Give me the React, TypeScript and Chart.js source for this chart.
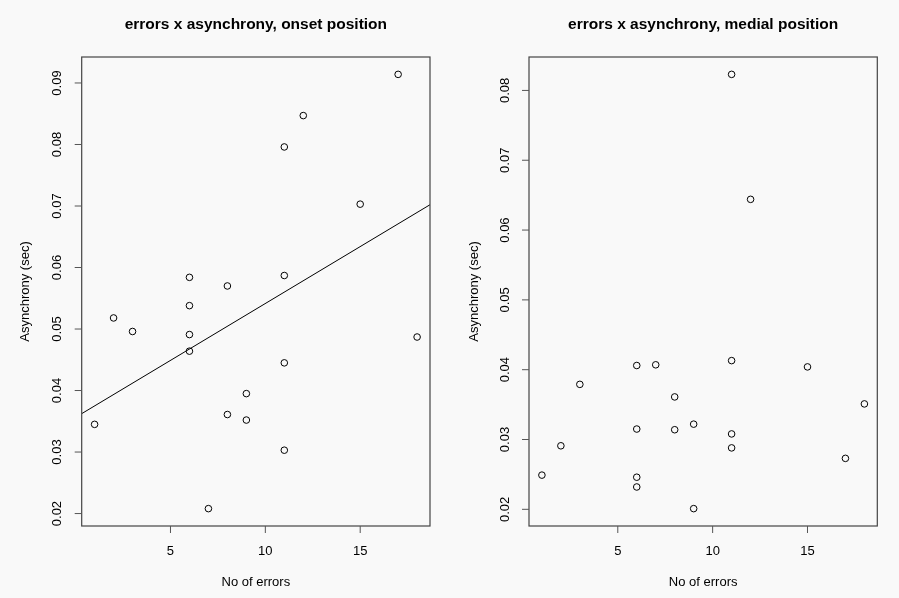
import React, { useEffect, useRef } from "react";
import { Chart, registerables } from "chart.js";

Chart.register(...registerables);

// ---- data ----
const errorsOnset = [17, 12, 11, 15, 6, 8, 11, 6, 2, 3, 6, 6, 18, 11, 9, 8, 9, 1, 11, 7];
const asyncOnset = [
  0.0914, 0.0847, 0.0796, 0.0703, 0.0584, 0.0570, 0.0587, 0.0538, 0.0518, 0.0496,
  0.0491, 0.0464, 0.0487, 0.0445, 0.0395, 0.0361, 0.0352, 0.0345, 0.0303, 0.0208,
];
const errorsMedial = [11, 12, 6, 7, 11, 15, 3, 8, 18, 6, 8, 9, 11, 11, 2, 17, 1, 6, 6, 9];
const asyncMedial = [
  0.0823, 0.0644, 0.0406, 0.0407, 0.0413, 0.0404, 0.0379, 0.0361, 0.0351, 0.0315,
  0.0314, 0.0322, 0.0308, 0.0288, 0.0291, 0.0273, 0.0249, 0.0246, 0.0232, 0.0201,
];
const xTicks = [5, 10, 15];
const yTicksOnset = [0.02, 0.03, 0.04, 0.05, 0.06, 0.07, 0.08, 0.09];
const yTicksMedial = [0.02, 0.03, 0.04, 0.05, 0.06, 0.07, 0.08];
const titleOnset = "errors x asynchrony, onset position";
const titleMedial = "errors x asynchrony, medial position";
const xTitle = "No of errors";
const yTitle = "Asynchrony (sec)";

const FONT = "'Liberation Sans', Arial, Helvetica, sans-serif";
const BG = "#f9f9f9";

function rRange(v: number[]) {
  const mn = Math.min(...v);
  const mx = Math.max(...v);
  const d = (mx - mn) * 0.04;
  return [mn - d, mx + d];
}

function linFit(xs: number[], ys: number[]) {
  const n = xs.length;
  const mx = xs.reduce((a, b) => a + b, 0) / n;
  const my = ys.reduce((a, b) => a + b, 0) / n;
  let sxx = 0, sxy = 0;
  for (let i = 0; i < n; i++) {
    sxx += (xs[i] - mx) ** 2;
    sxy += (xs[i] - mx) * (ys[i] - my);
  }
  const b = sxy / sxx;
  return { a: my - b * mx, b };
}

type PanelProps = {
  xs: number[];
  ys: number[];
  yTicks: number[];
  title: string;
  fit: boolean;
  left: number;
  pad: { left: number; right: number; top: number; bottom: number };
  yLabOff: number;
  yTitleOff: number;
};

function Panel(p: PanelProps) {
  const ref = useRef<HTMLCanvasElement | null>(null);
  useEffect(() => {
    if (!ref.current) return;
    const [xmin, xmax] = rRange(p.xs);
    const [ymin, ymax] = rRange(p.ys);
    const datasets: any[] = [
      {
        type: "scatter",
        data: p.xs.map((x, i) => ({ x, y: p.ys[i] })),
        pointRadius: 3.3,
        pointBorderWidth: 1,
        pointBorderColor: "#000",
        pointBackgroundColor: "rgba(0,0,0,0)",
        showLine: false,
      },
    ];
    if (p.fit) {
      const { a, b } = linFit(p.xs, p.ys);
      datasets.push({
        type: "line",
        data: [
          { x: xmin, y: a + b * xmin },
          { x: xmax, y: a + b * xmax },
        ],
        borderColor: "#000",
        borderWidth: 1,
        pointRadius: 0,
        fill: false,
      });
    }
    const rPlugin = {
      id: "rAxes",
      afterDraw(chart: any) {
        const ctx = chart.ctx;
        const ca = chart.chartArea;
        const xs = chart.scales.x;
        const ys = chart.scales.y;
        ctx.save();
        // box
        ctx.strokeStyle = "#444";
        ctx.lineWidth = 1.2;
        ctx.strokeRect(ca.left, ca.top, ca.right - ca.left, ca.bottom - ca.top);
        ctx.strokeStyle = "#555";
        ctx.lineWidth = 1;
        ctx.fillStyle = "#000";
        ctx.font = `13px ${FONT}`;
        // x ticks
        ctx.textAlign = "center";
        ctx.textBaseline = "middle";
        for (const t of xTicks) {
          const px = xs.getPixelForValue(t);
          ctx.beginPath();
          ctx.moveTo(px, ca.bottom);
          ctx.lineTo(px, ca.bottom + 7);
          ctx.stroke();
          ctx.fillText(String(t), px, ca.bottom + 25);
        }
        // y ticks
        for (const t of p.yTicks) {
          const py = ys.getPixelForValue(t);
          ctx.beginPath();
          ctx.moveTo(ca.left, py);
          ctx.lineTo(ca.left - 7, py);
          ctx.stroke();
          ctx.save();
          ctx.translate(ca.left + p.yLabOff, py);
          ctx.rotate(-Math.PI / 2);
          ctx.fillText(t.toFixed(2), 0, 0);
          ctx.restore();
        }
        // axis titles
        const cx = (ca.left + ca.right) / 2;
        const cy = (ca.top + ca.bottom) / 2;
        ctx.fillText(xTitle, cx, ca.bottom + 56);
        ctx.save();
        ctx.translate(ca.left + p.yTitleOff, cy);
        ctx.rotate(-Math.PI / 2);
        ctx.fillText(yTitle, 0, 0);
        ctx.restore();
        // main title
        ctx.font = `bold 15.5px ${FONT}`;
        ctx.fillText(p.title, cx, 25);
        ctx.restore();
      },
    };
    const chart = new Chart(ref.current, {
      type: "scatter",
      data: { datasets },
      options: {
        animation: false,
        responsive: false,
        maintainAspectRatio: false,
        layout: { padding: p.pad },
        plugins: {
          legend: { display: false },
          tooltip: { enabled: false },
          title: { display: false },
        },
        scales: {
          x: { type: "linear", min: xmin, max: xmax, display: false },
          y: { type: "linear", min: ymin, max: ymax, display: false },
        },
      },
      plugins: [rPlugin],
    } as any);
    return () => chart.destroy();
  }, []);
  return (
    <canvas
      ref={ref}
      width={450}
      height={598}
      style={{ position: "absolute", left: p.left, top: 0, width: 450, height: 598 }}
    />
  );
}

export default function App() {
  return (
    <div
      style={{
        position: "absolute",
        left: 0,
        top: 0,
        width: 899,
        height: 598,
        background: BG,
        overflow: "hidden",
      }}
    >
      <Panel
        xs={errorsOnset}
        ys={asyncOnset}
        yTicks={yTicksOnset}
        title={titleOnset}
        fit={true}
        left={0}
        pad={{ left: 81.7, right: 20, top: 57, bottom: 72 }}
        yLabOff={-24.4}
        yTitleOff={-56.7}
      />
      <Panel
        xs={errorsMedial}
        ys={asyncMedial}
        yTicks={yTicksMedial}
        title={titleMedial}
        fit={false}
        left={449}
        pad={{ left: 80, right: 21.7, top: 57, bottom: 72 }}
        yLabOff={-23.3}
        yTitleOff={-55}
      />
    </div>
  );
}
